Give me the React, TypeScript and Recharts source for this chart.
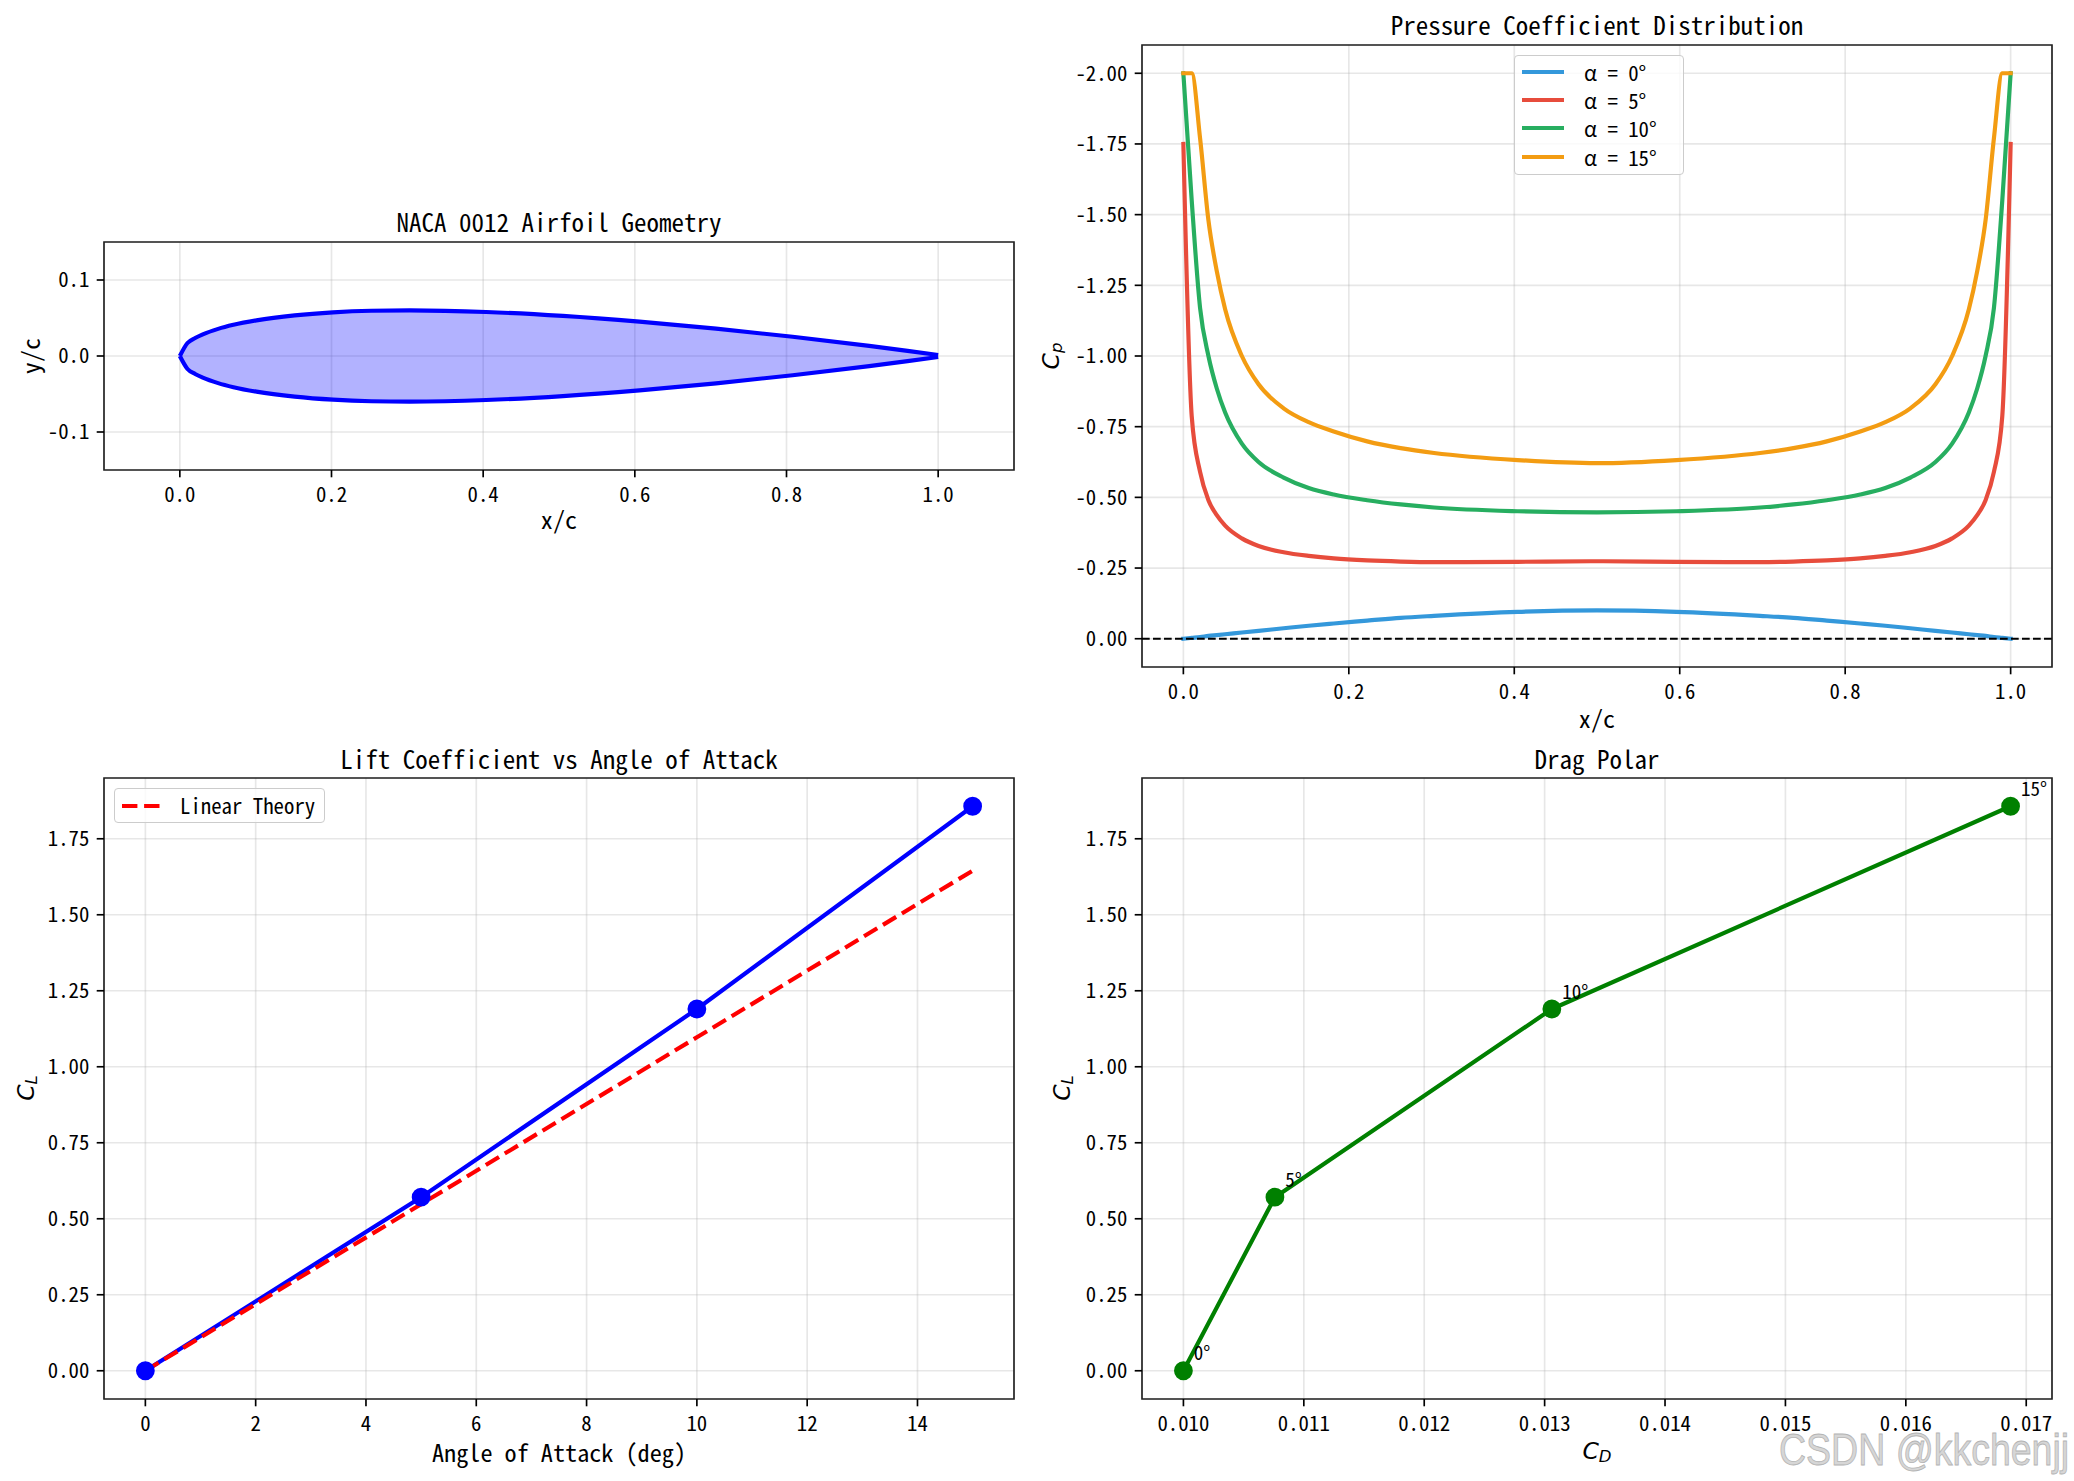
import React from 'react';
import {
  ComposedChart,
  LineChart,
  Line,
  Area,
  XAxis,
  YAxis,
  CartesianGrid,
  ReferenceLine,
  ReferenceArea,
  LabelList,
} from 'recharts';

const MONO = '"Noto Sans Mono CJK SC", "DejaVu Sans Mono", monospace';
const MATH = '"DejaVu Sans", sans-serif';

// ---------- NACA 0012 geometry (chordwise stations, upper / lower surface) ----------
const foilX = [0, 0.0101, 0.0202, 0.0303, 0.0505, 0.0707, 0.101, 0.1515, 0.202, 0.2525, 0.303, 0.404, 0.5051, 0.6061, 0.7071, 0.8081, 0.9091, 0.9596, 1.0];
const foilUpper = [0, 0.0171, 0.0237, 0.0285, 0.0357, 0.041, 0.0469, 0.0535, 0.0575, 0.0595, 0.06, 0.0579, 0.0527, 0.0452, 0.036, 0.0253, 0.0134, 0.0068, 0.0013];
const foilLower = [0, -0.0171, -0.0237, -0.0285, -0.0357, -0.041, -0.0469, -0.0535, -0.0575, -0.0595, -0.06, -0.0579, -0.0527, -0.0452, -0.036, -0.0253, -0.0134, -0.0068, -0.0013];
const foilTicksX = [0, 0.2, 0.4, 0.6, 0.8, 1.0];
const foilTicksY = [-0.1, 0, 0.1];

// ---------- Pressure coefficient along the chord ----------
const cpX = [0, 0.0101, 0.0202, 0.0303, 0.0404, 0.0505, 0.0707, 0.0909, 0.1212, 0.1515, 0.1818, 0.2222, 0.2626, 0.303, 0.404, 0.5, 0.596, 0.697, 0.7374, 0.7778, 0.8182, 0.8485, 0.8788, 0.9091, 0.9293, 0.9495, 0.9596, 0.9697, 0.9798, 0.9899, 1.0];
const cpAlpha0 = [0, -0.003, -0.006, -0.01, -0.013, -0.016, -0.022, -0.028, -0.037, -0.046, -0.054, -0.064, -0.074, -0.081, -0.095, -0.1, -0.095, -0.081, -0.074, -0.064, -0.054, -0.046, -0.037, -0.028, -0.022, -0.016, -0.013, -0.01, -0.006, -0.003, 0];
const cpAlpha5 = [-1.75, -0.787, -0.59, -0.49, -0.437, -0.4, -0.355, -0.328, -0.306, -0.293, -0.284, -0.277, -0.273, -0.271, -0.272, -0.274, -0.272, -0.271, -0.273, -0.277, -0.284, -0.293, -0.306, -0.328, -0.355, -0.4, -0.437, -0.49, -0.59, -0.787, -1.75];
const cpAlpha10 = [-2.0, -1.55, -1.17, -1.0, -0.885, -0.8, -0.69, -0.625, -0.57, -0.533, -0.51, -0.49, -0.475, -0.464, -0.451, -0.447, -0.451, -0.464, -0.475, -0.49, -0.51, -0.533, -0.57, -0.625, -0.69, -0.8, -0.885, -1.0, -1.17, -1.55, -2.0];
const cpAlpha15 = [-2.0, -2.0, -1.77, -1.48, -1.3, -1.165, -1.0, -0.9, -0.815, -0.766, -0.733, -0.698, -0.674, -0.657, -0.632, -0.621, -0.632, -0.657, -0.674, -0.698, -0.733, -0.766, -0.815, -0.9, -1.0, -1.165, -1.3, -1.48, -1.77, -2.0, -2.0];
const cpTicksX = [0, 0.2, 0.4, 0.6, 0.8, 1.0];
const cpTicksY = [-2.0, -1.75, -1.5, -1.25, -1.0, -0.75, -0.5, -0.25, 0];
const cpSeries = [
  { key: 'a0', label: 'α = 0°', color: '#3498db' },
  { key: 'a5', label: 'α = 5°', color: '#e74c3c' },
  { key: 'a10', label: 'α = 10°', color: '#27ae60' },
  { key: 'a15', label: 'α = 15°', color: '#f39c12' },
];

// ---------- Lift curve ----------
const alphaDeg = [0, 5, 10, 15];
const liftCoef = [0, 0.571, 1.19, 1.857];
const liftLinear = [0, 0.548, 1.097, 1.645];
const liftTicksX = [0, 2, 4, 6, 8, 10, 12, 14];
const clTicks = [0, 0.25, 0.5, 0.75, 1.0, 1.25, 1.5, 1.75];

// ---------- Drag polar ----------
const dragCoef = [0.01, 0.01076, 0.01306, 0.01687];
const polarLabels = ['0°', '5°', '10°', '15°'];
const dragTicksX = [0.01, 0.011, 0.012, 0.013, 0.014, 0.015, 0.016, 0.017];

const foilRows = foilX.map((x, i) => ({ x, upper: foilUpper[i], lower: foilLower[i], band: [foilLower[i], foilUpper[i]] }));
const cpRows = cpX.map((x, i) => ({ x, a0: cpAlpha0[i], a5: cpAlpha5[i], a10: cpAlpha10[i], a15: cpAlpha15[i] }));
const liftRows = alphaDeg.map((a, i) => ({ a, cl: liftCoef[i], lin: liftLinear[i] }));
const polarRows = dragCoef.map((cd, i) => ({ cd, cl: liftCoef[i], tag: polarLabels[i] }));

// ---------- layout ----------
type Box = { left: number; top: number; width: number; height: number };
const BOX_TL: Box = { left: 104, top: 242, width: 910, height: 228 };
const BOX_TR: Box = { left: 1142, top: 45, width: 910, height: 622 };
const BOX_BL: Box = { left: 104, top: 778, width: 910, height: 621 };
const BOX_BR: Box = { left: 1142, top: 778, width: 910, height: 621 };
const CL_DOMAIN: [number, number] = [-0.0929, 1.9499];

const YW = 95;
const XH = 70;
const PAD = 14;
const LW = 4.17;
const GRID = '#b0b0b0';
const SPINE = '#222';

function place(b: Box) {
  return {
    wrap: { position: 'absolute', left: b.left - YW, top: b.top - PAD } as React.CSSProperties,
    width: b.width + YW + PAD,
    height: b.height + PAD + XH,
    margin: { top: PAD, right: PAD, bottom: 0, left: 0 },
  };
}

const tickFont = { fontSize: 20.8, fontFamily: MONO, fill: '#000' };
const xAxisCommon: any = {
  type: 'number',
  height: XH,
  tickSize: 7.3,
  tickMargin: 10,
  tick: tickFont,
  axisLine: false,
  tickLine: { stroke: '#000', strokeWidth: 1.67 },
  allowDataOverflow: true,
  interval: 0,
};
const yAxisCommon: any = {
  type: 'number',
  width: YW,
  tickSize: 7.3,
  tickMargin: 7.3,
  tick: tickFont,
  axisLine: false,
  tickLine: { stroke: '#000', strokeWidth: 1.67 },
  allowDataOverflow: true,
  interval: 0,
};

function Frame(x: [number, number], y: [number, number]) {
  return (
    <ReferenceArea
      x1={x[0]}
      x2={x[1]}
      y1={y[0]}
      y2={y[1]}
      fill="none"
      fillOpacity={0}
      stroke={SPINE}
      strokeWidth={1.67}
      ifOverflow="visible"
    />
  );
}

function AirfoilPanel() {
  const p = place(BOX_TL);
  const xd: [number, number] = [-0.1, 1.1];
  const yd: [number, number] = [-0.15, 0.15];
  return (
    <div style={p.wrap}>
      <ComposedChart width={p.width} height={p.height} margin={p.margin} data={foilRows}>
        <CartesianGrid stroke={GRID} strokeOpacity={0.3} strokeWidth={1.67} />
        <XAxis dataKey="x" domain={xd} ticks={foilTicksX} tickFormatter={(v: number) => v.toFixed(1)} {...xAxisCommon} />
        <YAxis domain={yd} ticks={foilTicksY} tickFormatter={(v: number) => v.toFixed(1)} {...yAxisCommon} />
        <Area dataKey="band" type="monotone" fill="#0000ff" fillOpacity={0.3} stroke="none" isAnimationActive={false} />
        <Line dataKey="upper" type="monotone" stroke="#0000ff" strokeWidth={LW} strokeLinejoin="round" dot={false} isAnimationActive={false} />
        <Line dataKey="lower" type="monotone" stroke="#0000ff" strokeWidth={LW} strokeLinejoin="round" dot={false} isAnimationActive={false} />
        {Frame(xd, yd)}
      </ComposedChart>
    </div>
  );
}

function CpPanel() {
  const p = place(BOX_TR);
  const xd: [number, number] = [-0.05, 1.05];
  const yd: [number, number] = [-2.1, 0.1];
  return (
    <div style={p.wrap}>
      <LineChart width={p.width} height={p.height} margin={p.margin} data={cpRows}>
        <CartesianGrid stroke={GRID} strokeOpacity={0.3} strokeWidth={1.67} />
        <XAxis dataKey="x" domain={xd} ticks={cpTicksX} tickFormatter={(v: number) => v.toFixed(1)} {...xAxisCommon} />
        <YAxis reversed domain={yd} ticks={cpTicksY} tickFormatter={(v: number) => v.toFixed(2)} {...yAxisCommon} />
        {cpSeries.map((s) => (
          <Line
            key={s.key}
            dataKey={s.key}
            type="monotone"
            stroke={s.color}
            strokeWidth={LW}
            strokeLinejoin="round"
            strokeLinecap="square"
            dot={false}
            isAnimationActive={false}
          />
        ))}
        <ReferenceLine y={0} stroke="#000" strokeWidth={2.08} strokeDasharray="7.7 3.3" />
        {Frame(xd, yd)}
      </LineChart>
    </div>
  );
}

function LiftPanel() {
  const p = place(BOX_BL);
  const xd: [number, number] = [-0.75, 15.75];
  return (
    <div style={p.wrap}>
      <LineChart width={p.width} height={p.height} margin={p.margin} data={liftRows}>
        <CartesianGrid stroke={GRID} strokeOpacity={0.3} strokeWidth={1.67} />
        <XAxis dataKey="a" domain={xd} ticks={liftTicksX} tickFormatter={(v: number) => String(v)} {...xAxisCommon} />
        <YAxis domain={CL_DOMAIN} ticks={clTicks} tickFormatter={(v: number) => v.toFixed(2)} {...yAxisCommon} />
        <Line
          dataKey="cl"
          type="linear"
          stroke="#0000ff"
          strokeWidth={LW}
          strokeLinejoin="round"
          dot={{ r: 8.4, fill: '#0000ff', stroke: '#0000ff', strokeWidth: 2 }}
          isAnimationActive={false}
        />
        <Line
          dataKey="lin"
          type="linear"
          stroke="#ff0000"
          strokeWidth={LW}
          strokeDasharray="15.4 6.7"
          dot={false}
          isAnimationActive={false}
        />
        {Frame(xd, CL_DOMAIN)}
      </LineChart>
    </div>
  );
}

function PolarTag(props: any) {
  const vb = props.viewBox || {};
  const x = props.x ?? vb.x;
  const y = props.y ?? vb.y;
  if (x == null || y == null) return null;
  return (
    <text x={x + 10.4} y={y - 10.4} fontSize={19} fontFamily={MONO} fill="#000">
      {props.value}
    </text>
  );
}

function PolarPanel() {
  const p = place(BOX_BR);
  const xd: [number, number] = [0.009656, 0.017214];
  return (
    <div style={p.wrap}>
      <LineChart width={p.width} height={p.height} margin={p.margin} data={polarRows}>
        <CartesianGrid stroke={GRID} strokeOpacity={0.3} strokeWidth={1.67} />
        <XAxis dataKey="cd" domain={xd} ticks={dragTicksX} tickFormatter={(v: number) => v.toFixed(3)} {...xAxisCommon} />
        <YAxis domain={CL_DOMAIN} ticks={clTicks} tickFormatter={(v: number) => v.toFixed(2)} {...yAxisCommon} />
        <Line
          dataKey="cl"
          type="linear"
          stroke="#008000"
          strokeWidth={LW}
          strokeLinejoin="round"
          dot={{ r: 8.4, fill: '#008000', stroke: '#008000', strokeWidth: 2 }}
          isAnimationActive={false}
        >
          <LabelList dataKey="tag" content={PolarTag} />
        </Line>
        {Frame(xd, CL_DOMAIN)}
      </LineChart>
    </div>
  );
}

function MathLabel({ x, y, main, sub, rotate }: { x: number; y: number; main: string; sub: string; rotate?: boolean }) {
  return (
    <text
      transform={`translate(${x},${y})${rotate ? ' rotate(-90)' : ''}`}
      textAnchor="middle"
      dominantBaseline="central"
      fontFamily={MATH}
      fontStyle="italic"
      fontSize={23.5}
      fill="#000"
    >
      {main}
      <tspan fontSize={16.5} dy={5}>{sub}</tspan>
    </text>
  );
}

function Overlay() {
  const title = { fontFamily: MONO, fontSize: 25, fill: '#000', textAnchor: 'middle' as const, dominantBaseline: 'central' as const };
  const label = { fontFamily: MONO, fontSize: 24.2, fill: '#000', textAnchor: 'middle' as const, dominantBaseline: 'central' as const };
  return (
    <svg width={2074} height={1481} style={{ position: 'absolute', left: 0, top: 0, pointerEvents: 'none' }}>
      <text x={559} y={221} {...title}>NACA 0012 Airfoil Geometry</text>
      <text x={1597} y={24} {...title}>Pressure Coefficient Distribution</text>
      <text x={559} y={758} {...title}>Lift Coefficient vs Angle of Attack</text>
      <text x={1597} y={758} {...title}>Drag Polar</text>

      <text x={559} y={518} {...label}>x/c</text>
      <text transform="translate(29,356) rotate(-90)" {...label}>y/c</text>
      <text x={1597} y={717} {...label}>x/c</text>
      <MathLabel x={1051} y={356} main="C" sub="p" rotate />
      <text x={559} y={1451} {...label}>Angle of Attack (deg)</text>
      <MathLabel x={26} y={1088} main="C" sub="L" rotate />
      <MathLabel x={1597} y={1451} main="C" sub="D" />
      <MathLabel x={1062} y={1088} main="C" sub="L" rotate />

      <g transform="translate(1779,1465) scale(1,1.2)">
        <text
          x={0}
          y={0}
          fontFamily='"Liberation Sans", Arial, sans-serif'
          fontSize={37.5}
          fill="#d6d6d6"
          stroke="#b4b4b4"
          strokeWidth={0.7}
        >
          CSDN @kkchenjj
        </text>
      </g>
    </svg>
  );
}

const legendBox: React.CSSProperties = {
  position: 'absolute',
  boxSizing: 'border-box',
  border: '1.67px solid #cccccc',
  borderRadius: 4,
  background: 'rgba(255,255,255,0.8)',
};

function CpLegend() {
  const rows = [15.7, 44, 72.3, 100.7];
  return (
    <div style={{ ...legendBox, left: 1514, top: 55, width: 170, height: 120 }}>
      {cpSeries.map((s, i) => (
        <React.Fragment key={s.key}>
          <div style={{ position: 'absolute', left: 7, top: rows[i] - 2.1, width: 42, height: 4.17, background: s.color }} />
          <div
            style={{
              position: 'absolute',
              left: 69,
              top: rows[i] - 14,
              height: 28,
              lineHeight: '28px',
              fontFamily: MONO,
              fontSize: 20.8,
              color: '#000',
              whiteSpace: 'pre',
            }}
          >
            {s.label}
          </div>
        </React.Fragment>
      ))}
    </div>
  );
}

function LiftLegend() {
  return (
    <div style={{ ...legendBox, left: 114, top: 788, width: 211, height: 35 }}>
      <svg width={44} height={10} style={{ position: 'absolute', left: 7, top: 11.5 }}>
        <line x1={0} y1={5} x2={42} y2={5} stroke="#ff0000" strokeWidth={4.17} strokeDasharray="15.4 6.7" />
      </svg>
      <div
        style={{
          position: 'absolute',
          left: 65,
          top: 0,
          height: 33,
          lineHeight: '33px',
          fontFamily: MONO,
          fontSize: 20.8,
          color: '#000',
          whiteSpace: 'pre',
        }}
      >
        Linear Theory
      </div>
    </div>
  );
}

export default function App() {
  return (
    <div style={{ position: 'absolute', left: 0, top: 0, width: 2074, height: 1481, background: '#fff', overflow: 'hidden' }}>
      <AirfoilPanel />
      <CpPanel />
      <LiftPanel />
      <PolarPanel />
      <Overlay />
      <CpLegend />
      <LiftLegend />
    </div>
  );
}
